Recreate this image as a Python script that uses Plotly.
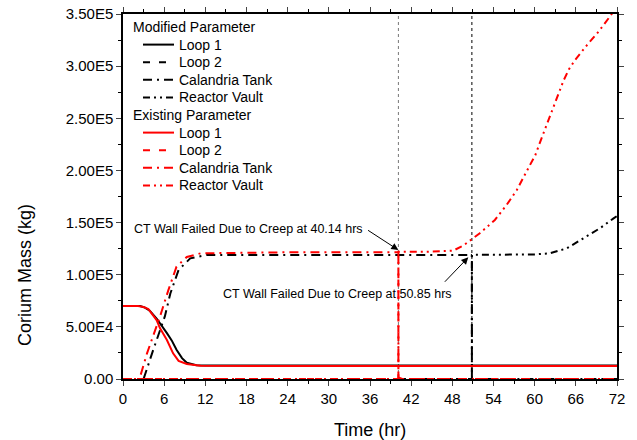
import plotly.graph_objects as go

# ---- data ----
loop1_mod_t = [0, 2.5, 3.2, 3.9, 4.9, 5.6, 6.4, 7.1, 7.8, 8.6, 9.3, 10.7, 12, 24, 40, 50.85, 60, 72]
loop1_mod_v = [70000, 70000, 68500, 65500, 58000, 52000, 44000, 37000, 28000, 20000, 15600, 13200, 12900, 12900, 12900, 12900, 12900, 12900]

loop1_ex_t = [0, 2.2, 3.0, 3.7, 4.9, 5.4, 6.4, 7.3, 8.1, 9.3, 11.3, 24, 40, 60, 72]
loop1_ex_v = [70000, 70000, 69000, 67000, 56500, 48600, 37400, 24600, 17300, 14400, 12600, 12400, 12400, 12400, 12400]

loop2_mod_t = [0, 72]
loop2_mod_v = [0, 0]
loop2_ex_t = [0, 72]
loop2_ex_v = [0, 0]

ct_mod_t = [0, 3.0, 4.4, 6.1, 6.9, 8.1, 9.8, 12.2, 24, 50.85, 50.85, 51.4, 72]
ct_mod_v = [0, 0, 27800, 60000, 82000, 104500, 115700, 119000, 119000, 119000, 1500, 0, 0]

ct_ex_t = [0, 2.4, 3.5, 5.4, 6.6, 7.8, 9.3, 11.3, 24, 40.14, 40.14, 40.7, 72]
ct_ex_v = [0, 0, 24600, 60000, 85000, 107700, 117000, 120500, 121500, 121500, 1500, 0, 0]

vault_mod_t = [0, 50.85, 50.85, 56, 60, 62.2, 64.7, 67.1, 69.5, 71.5, 72]
vault_mod_v = [0, 0, 119000, 119000, 119500, 120500, 125300, 134900, 144500, 154000, 156300]

vault_ex_t = [0, 40.14, 40.14, 44, 48.1, 49.6, 52.0, 54.2, 55.9, 57.4, 58.8, 60.1, 61.0, 62.0,
              63.0, 64.2, 65.0, 65.9, 67.6, 69.3, 70.9, 72]
vault_ex_v = [0, 0, 122000, 122000, 123000, 128000, 139700, 152500, 166800, 181200, 198800, 214800,
              230800, 248000, 267000, 286000, 297000, 306000, 320000, 333000, 347000, 357000]

fail_times = [40.14, 50.85]
y_tickvals = [0, 50000, 100000, 150000, 200000, 250000, 300000, 350000]
y_ticktext = ["0.00", "5.00E4", "1.00E5", "1.50E5", "2.00E5", "2.50E5", "3.00E5", "3.50E5"]
x_tickvals = list(range(0, 73, 6))

series_names = ["Loop 1", "Loop 2", "Calandria Tank", "Reactor Vault"]
group_titles = ["Modified Parameter", "Existing Parameter"]
group_colors = ["black", "red"]

FONT = "Liberation Sans, Arial, sans-serif"
dashes = ["solid", "7px,9px", "9px,5px,2px,5px", "7px,4px,2px,4px,2px,4px"]

# plot-area geometry in pixels (for placing legend / titles)
L, R, T, B = 123, 617, 14, 379
def px_x(p):
    return (p - L) / (R - L)
def px_y(p):
    return (B - p) / (B - T)

fig = go.Figure()

data_mod = [(loop1_mod_t, loop1_mod_v), (loop2_mod_t, loop2_mod_v), (ct_mod_t, ct_mod_v), (vault_mod_t, vault_mod_v)]
data_ex = [(loop1_ex_t, loop1_ex_v), (loop2_ex_t, loop2_ex_v), (ct_ex_t, ct_ex_v), (vault_ex_t, vault_ex_v)]

for gi, group in enumerate([data_mod, data_ex]):
    for si, (t, v) in enumerate(group):
        fig.add_trace(go.Scatter(
            x=t, y=v, mode="lines", name=f"{group_titles[gi]} - {series_names[si]}",
            line=dict(color=group_colors[gi], dash=dashes[si], width=2),
            showlegend=False,
        ))

# manual legend (to match the compact spacing of the reference)
row = 0
row_h = 17.6
y0 = 27
for gi in range(2):
    fig.add_annotation(x=px_x(131), y=px_y(y0 + row * row_h), xref="paper", yref="paper",
                       xanchor="left", yanchor="middle", showarrow=False,
                       text=group_titles[gi], font=dict(size=14, family=FONT, color="black"))
    row += 1
    for si in range(4):
        yy = px_y(y0 + row * row_h)
        fig.add_shape(type="line", xref="paper", yref="paper", x0=px_x(143), x1=px_x(174), y0=yy, y1=yy,
                      line=dict(color=group_colors[gi], dash=dashes[si], width=2))
        fig.add_annotation(x=px_x(177), y=yy, xref="paper", yref="paper",
                           xanchor="left", yanchor="middle", showarrow=False,
                           text=series_names[si], font=dict(size=14, family=FONT, color="black"))
        row += 1

# vertical dotted lines at failure times
for ft, col in zip(fail_times, ["#777777", "black"]):
    fig.add_shape(type="line", xref="x", yref="y", x0=ft, x1=ft, y0=0, y1=350000,
                  line=dict(color=col, width=1, dash="dot"), layer="below")

# annotations
fig.add_annotation(x=18.3, y=144300, xref="x", yref="y", showarrow=False,
                   text="CT Wall Failed Due to Creep at 40.14 hrs", font=dict(size=12.5, family=FONT, color="black"))
fig.add_annotation(x=40.13, y=123700, ax=35.5, ay=143500, xref="x", yref="y", axref="x", ayref="y",
                   text="", showarrow=True, arrowhead=2, arrowsize=1.4, arrowwidth=1, arrowcolor="black")
fig.add_annotation(x=31.2, y=81500, xref="x", yref="y", showarrow=False,
                   text="CT Wall Failed Due to Creep at 50.85 hrs", font=dict(size=12.5, family=FONT, color="black"))
fig.add_annotation(x=50.33, y=116700, ax=46.7, ay=91800, xref="x", yref="y", axref="x", ayref="y",
                   text="", showarrow=True, arrowhead=2, arrowsize=1.4, arrowwidth=1, arrowcolor="black")

# axis titles placed as in the reference
fig.add_annotation(x=px_x(25), y=px_y(275), xref="paper", yref="paper", showarrow=False,
                   text="Corium Mass (kg)", textangle=-90, xanchor="center", yanchor="middle",
                   font=dict(size=18, family=FONT, color="black"))
fig.add_annotation(x=px_x(370), y=px_y(430), xref="paper", yref="paper", showarrow=False,
                   text="Time (hr)", xanchor="center", yanchor="middle",
                   font=dict(size=18, family=FONT, color="black"))

fig.update_layout(
    width=637, height=440,
    margin=dict(l=L, r=637 - R, t=T, b=440 - B, autoexpand=False),
    paper_bgcolor="white", plot_bgcolor="white",
    font=dict(family=FONT, color="black", size=15),
    showlegend=False,
)
fig.update_xaxes(range=[0, 72], tickvals=x_tickvals, ticks="outside", ticklen=5, tickwidth=1,
                 showline=True, linecolor="black", linewidth=1.5, mirror="ticks", showgrid=False,
                 zeroline=False, minor=dict(dtick=3, ticks="outside", ticklen=3, tickcolor="black"),
                 tickfont=dict(size=15), automargin=False)
fig.update_yaxes(range=[0, 350000], tickvals=y_tickvals, ticktext=y_ticktext, ticks="outside", ticklen=5,
                 tickwidth=1, showline=True, linecolor="black", linewidth=1.5, mirror="ticks",
                 showgrid=False, zeroline=False,
                 minor=dict(tickvals=[25000, 75000, 125000, 175000, 225000, 275000, 325000],
                            ticks="outside", ticklen=3, tickcolor="black"),
                 tickfont=dict(size=15), automargin=False)

fig.write_html("out.html")
